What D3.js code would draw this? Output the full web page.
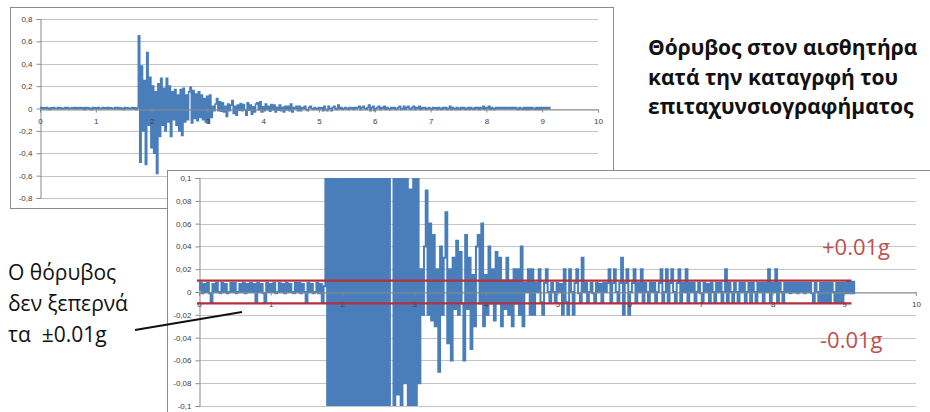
<!DOCTYPE html>
<html>
<head>
<meta charset="utf-8">
<script src="https://cdn.jsdelivr.net/npm/d3@7/dist/d3.min.js"></script>
<style>
  html, body { margin: 0; padding: 0; background: #fff; }
  svg { display: block; }
</style>
</head>
<body>
<svg id="chart" width="930" height="412"></svg>
<script>
// Sensor record: acceleration in thousandths of g, one sample every 0.025 s (0 – 9.15 s)
const sampleStep = 0.025;
const accelMilliG = [
  // quiet pre-event noise, 0 – 1.725 s
  2, 8, -1, 7, 0, 8, -1, -9, 7, 0,
  8, 0, -1, 8, 0, 7, -1, 0, 8, 0,
  8, -1, 0, 7, 0, 8, -1, 7, 0, 8,
  0, 7, -9, 8, 0, 7, -1, -9, 8, 0,
  7, 0, 8, -1, 0, 8, 0, 7, -1, 8,
  0, 7, 0, -1, 8, 0, 8, -1, 7, 0,
  -9, 8, 0, 7, -1, 0, 8, -1, 7, -9,
  // strong motion, 1.75 – 2.975 s
  5, 650, -480, 380, -200, 250, -500, 500, -150, 280,
  -350, 200, -400, 150, -580, 220, -250, 270, -150, 180,
  -200, 270, -120, 200, -250, 150, -100, 170, -150, 120,
  -200, 170, -240, 180, -120, 120, -100, 150, 190, -130,
  160, -90, 130, -110, 150, -80, 120, -100, 90, -120,
  // decaying coda, 3.0 – 4.5 s
  110, -130, 120, -80, 20, -20, 40, 89, -20, 60,
  -25, 50, -30, 20, -70, 40, -20, 30, 70, -45,
  20, -60, 30, -15, 45, -20, 35, -10, -60, 50,
  -15, 30, -50, 15, -30, 40, 50, -10, 60, -30,
  15, -20, 40, -10, 20, -25, 35, -10, 30, -30,
  10, -15, 30, -20, 10, -30, 20, -10, 20, -20,
  40,
  // late noise, 4.525 – 9.15 s
  -30, 8, 0, 20, -20, 20, -20, 8, 0, 20,
  -9, -20, 8, 20, 0, -9, 8, 0, -9, 8,
  0, 7, -20, 20, -9, -20, 20, 0, -20, 8,
  20, -1, -9, 30, 0, 8, -9, 0, 8, -1,
  -9, 8, 0, 7, -9, 8, 0, 8, 20, -9,
  8, 20, 0, -9, 8, 30, -20, 8, 20, -20,
  0, 8, 20, -9, 8, 0, 20, -9, 8, 0,
  -9, 8, 0, 8, -9, 0, 8, 20, -9, 0,
  20, -9, 8, 20, 0, -9, 8, 20, -9, 8,
  0, 20, -9, 8, 0, 8, -9, 0, 8, -1,
  -9, 8, 0, 7, -9, 8, 0, -9, 8, 0,
  8, -9, 0, 20, -9, 8, 0, -9, 8, 0,
  -9, 8, 0, 8, -9, 0, 8, -9, 8, 0,
  -9, 8, 0, 8, -9, 8, 0, 20, -9, 8,
  0, 20, -9, 8, 0, -9, 8, 0, 8, -1,
  8, 0, 8, -1, 8, 0, 8, -1, 8, 0,
  8, -1, -9, 8, 0, -9, 8, -9, 8, -9,
  8, -9, 8, 0, -9, 8, -9, 8, -9, 8,
  -1, 9, -1, 9, -1, 9
];

const timeTicks = [0, 1, 2, 3, 4, 5, 6, 7, 8, 9, 10];
const overviewYTicks = [0.8, 0.6, 0.4, 0.2, 0, -0.2, -0.4, -0.6, -0.8];
const overviewYLabels = ["0,8", "0,6", "0,4", "0,2", "0", "-0,2", "-0,4", "-0,6", "-0,8"];
const detailYTicks = [0.1, 0.08, 0.06, 0.04, 0.02, 0, -0.02, -0.04, -0.06, -0.08, -0.1];
const detailYLabels = ["0,1", "0,08", "0,06", "0,04", "0,02", "0", "-0,02", "-0,04", "-0,06", "-0,08", "-0,1"];

// noise threshold lines (g) and the time span they cover (s)
const noiseLimits = [0.01, -0.01];
const noiseLimitLabels = ["+0.01g", "-0.01g"];
const noiseLimitSpan = [0, 9.1];

const titleLines = ["Θόρυβος στον αισθητήρα", "κατά την καταγρφή του", "επιταχυνσιογραφήματος"];
const noteLines = ["Ο θόρυβος", "δεν ξεπερνά", "τα  ±0.01g"];
const notePointer = [0.6, -0.0175]; // time (s), acceleration (g) the note arrow points at

const samples = accelMilliG.map((v, i) => ({ t: i * sampleStep, a: v / 1000 }));

const svg = d3.select("#chart");
const seriesColor = "#4a7ebb";
const gridColor = "#c4c4c4";
const axisColor = "#8a8a8a";
const labelColor = "#404040";
const tickFont = "Liberation Sans, Arial, sans-serif";

function drawPanel(opts) {
  const g = svg.append("g");
  // chart frame
  g.append("rect")
    .attr("x", opts.box[0] + 0.5).attr("y", opts.box[1] + 0.5)
    .attr("width", opts.box[2]).attr("height", opts.box[3])
    .attr("fill", "#fff").attr("stroke", "#8c8c8c").attr("stroke-width", 1);

  const x = d3.scaleLinear().domain([0, 10]).range(opts.xRange);
  const y = d3.scaleLinear().domain(opts.yDomain).range(opts.yRange);

  // horizontal gridlines
  g.append("g").selectAll("line").data(opts.yTicks).join("line")
    .attr("x1", opts.xRange[0]).attr("x2", opts.xRange[1])
    .attr("y1", d => Math.round(y(d)) + 0.5).attr("y2", d => Math.round(y(d)) + 0.5)
    .attr("stroke", gridColor).attr("stroke-width", 1);

  // vertical value axis with labels
  const yAxis = d3.axisLeft(y).tickValues(opts.yTicks)
    .tickFormat((d, i) => opts.yLabels[i]).tickSize(4).tickPadding(4);
  const yg = g.append("g").attr("transform", `translate(${Math.round(opts.xRange[0]) + 0.5},0)`).call(yAxis);
  yg.select(".domain").attr("stroke", axisColor);
  yg.selectAll(".tick line").attr("stroke", axisColor);
  yg.selectAll(".tick text").attr("fill", labelColor)
    .style("font-family", tickFont).style("font-size", opts.tickSize + "px");

  // time axis crossing at zero
  const xAxis = d3.axisBottom(x).tickValues(timeTicks).tickSize(3).tickPadding(opts.xPad)
    .tickFormat(d3.format("d"));
  const xg = g.append("g").attr("transform", `translate(0,${Math.round(y(0)) + 0.5})`).call(xAxis);
  xg.select(".domain").attr("stroke", axisColor);
  xg.selectAll(".tick line").attr("stroke", axisColor);
  xg.selectAll(".tick text").attr("fill", labelColor)
    .style("font-family", tickFont).style("font-size", opts.tickSize + "px");

  // acceleration trace, clipped to the plot area
  const clipId = opts.id + "-clip";
  g.append("clipPath").attr("id", clipId).append("rect")
    .attr("x", opts.xRange[0]).attr("y", opts.yRange[1])
    .attr("width", opts.xRange[1] - opts.xRange[0])
    .attr("height", opts.yRange[0] - opts.yRange[1]);

  const line = d3.line().curve(d3.curveStep).x(d => x(d.t)).y(d => y(d.a));
  g.append("path").datum(samples)
    .attr("clip-path", `url(#${clipId})`)
    .attr("d", line)
    .attr("fill", "none")
    .attr("stroke", seriesColor)
    .attr("stroke-width", opts.lineWidth);

  // keep the time labels readable above the trace
  xg.raise();
  return { g, x, y };
}

// overview: full amplitude range
drawPanel({
  id: "overview",
  box: [10, 7, 603, 201],
  xRange: [40, 598],
  yRange: [198, 19],
  yDomain: [-0.8, 0.8],
  yTicks: overviewYTicks,
  yLabels: overviewYLabels,
  tickSize: 8,
  xPad: 6,
  lineWidth: 1.6
});

// detail: ±0.1 g around zero
const detail = drawPanel({
  id: "detail",
  box: [167, 170, 800, 260],
  xRange: [199, 916],
  yRange: [406, 178],
  yDomain: [-0.1, 0.1],
  yTicks: detailYTicks,
  yLabels: detailYLabels,
  tickSize: 8,
  xPad: 6,
  lineWidth: 2
});

// ±0.01 g threshold lines
detail.g.append("g").selectAll("line").data(noiseLimits).join("line")
  .attr("x1", detail.x(noiseLimitSpan[0]) - 2)
  .attr("x2", detail.x(noiseLimitSpan[1]))
  .attr("y1", d => detail.y(d)).attr("y2", d => detail.y(d))
  .attr("stroke", "#b3303c").attr("stroke-width", 2.4);

svg.append("g").selectAll("text").data(noiseLimitLabels).join("text")
  .attr("x", (d, i) => i === 0 ? 822 : 820)
  .attr("y", (d, i) => i === 0 ? 255 : 348)
  .text(d => d)
  .attr("fill", "#c0504d")
  .style("font-family", "Open Sans, sans-serif")
  .style("font-size", "22px");

// heading
svg.append("g").selectAll("text").data(titleLines).join("text")
  .attr("x", 648)
  .attr("y", (d, i) => 55 + i * 29.5)
  .text(d => d)
  .attr("fill", "#111")
  .style("font-family", "Open Sans, sans-serif")
  .style("font-weight", "700")
  .style("font-size", "21px");

// side note with pointer
svg.append("g").selectAll("text").data(noteLines).join("text")
  .attr("x", 8)
  .attr("y", (d, i) => 280 + i * 31)
  .attr("xml:space", "preserve")
  .style("white-space", "pre")
  .text(d => d)
  .attr("fill", "#111")
  .style("font-family", "Open Sans, sans-serif")
  .style("font-size", "21px");

svg.append("line")
  .attr("x1", 135).attr("y1", 330)
  .attr("x2", detail.x(notePointer[0])).attr("y2", detail.y(notePointer[1]))
  .attr("stroke", "#111").attr("stroke-width", 2);
</script>
</body>
</html>
